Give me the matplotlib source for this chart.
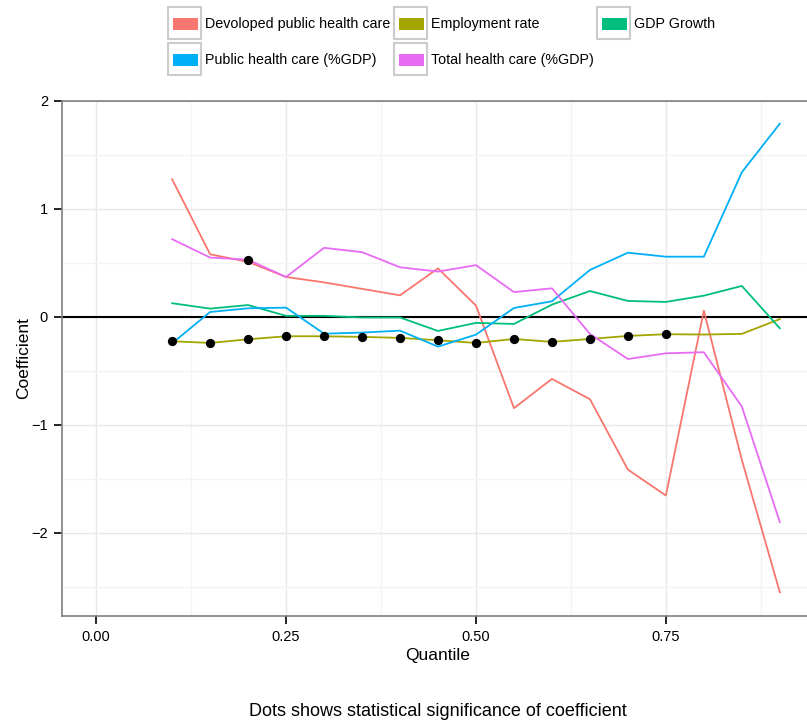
import matplotlib
matplotlib.use("Agg")
import matplotlib.pyplot as plt
from matplotlib.patches import Rectangle
import numpy as np

plt.rcParams['font.family'] = ['Liberation Sans', 'DejaVu Sans']

quantile = [0.10, 0.15, 0.20, 0.25, 0.30, 0.35, 0.40, 0.45, 0.50,
            0.55, 0.60, 0.65, 0.70, 0.75, 0.80, 0.85, 0.90]

devoloped = [1.275, 0.58, 0.51, 0.37, 0.32, 0.26, 0.20, 0.45, 0.105,
             -0.845, -0.574, -0.762, -1.414, -1.654, 0.058, -1.324, -2.55]
employment = [-0.225, -0.241, -0.207, -0.179, -0.179, -0.185, -0.194, -0.216, -0.241,
              -0.204, -0.231, -0.204, -0.176, -0.16, -0.163, -0.157, -0.02]
gdp_growth = [0.127, 0.077, 0.11, 0.01, 0.01, -0.005, -0.005, -0.13, -0.055,
              -0.065, 0.114, 0.24, 0.148, 0.139, 0.197, 0.287, -0.105]
public_hc = [-0.244, 0.046, 0.08, 0.086, -0.155, -0.145, -0.127, -0.275, -0.164,
             0.083, 0.145, 0.435, 0.595, 0.558, 0.558, 1.34, 1.79]
total_hc = [0.72, 0.55, 0.53, 0.37, 0.64, 0.60, 0.46, 0.42, 0.48,
            0.23, 0.265, -0.157, -0.39, -0.337, -0.327, -0.83, -1.90]

series_names = ["Devoloped public health care", "Employment rate", "GDP Growth",
                "Public health care (%GDP)", "Total health care (%GDP)"]
series_values = [devoloped, employment, gdp_growth, public_hc, total_hc]
colors = ["#F8766D", "#A3A500", "#00BF7D", "#00B0F6", "#E76BF3"]

# significant coefficients (dots)
sig_x = [0.10, 0.15, 0.20, 0.25, 0.30, 0.35, 0.40, 0.45, 0.50,
         0.55, 0.60, 0.65, 0.70, 0.75, 0.20]
sig_y = employment[:14] + [total_hc[2]]

W, H = 807, 722
fig = plt.figure(figsize=(W / 100, H / 100), dpi=100)
ax = fig.add_axes([62 / W, (H - 616) / H, (814 - 62) / W, (616 - 101) / H])

for name, vals, c in zip(series_names, series_values, colors):
    ax.plot(quantile, vals, color=c, lw=1.3, label=name, zorder=3)
ax.axhline(0, color='black', lw=1.5, zorder=2)
ax.scatter(sig_x, sig_y, s=32, color='black', zorder=5)

ax.set_xlim(-0.045, 0.945)
ax.set_ylim(-2.77, 2.0)
ax.set_xticks([0.0, 0.25, 0.5, 0.75])
ax.set_xticklabels(["0.00", "0.25", "0.50", "0.75"])
ax.set_yticks([-2, -1, 0, 1, 2])
ax.set_yticklabels(["\u22122", "\u22121", "0", "1", "2"])
ax.set_xticks([0.125, 0.375, 0.625, 0.875], minor=True)
ax.set_yticks([-2.5, -1.5, -0.5, 0.5, 1.5], minor=True)
ax.grid(which='major', color='#e8e8e8', lw=1.0, zorder=0)
ax.grid(which='minor', color='#f4f4f4', lw=1.0, zorder=0)
ax.set_axisbelow(True)
ax.tick_params(which='major', direction='out', length=6, width=1.2, color='black',
               labelsize=10.5, labelcolor='black', pad=4)
ax.tick_params(which='minor', length=0)
for s in ax.spines.values():
    s.set_color('#7f7f7f')
    s.set_linewidth(1.2)
ax.set_xlabel("Quantile", fontsize=12.5, labelpad=3)
ax.set_ylabel("Coefficient", fontsize=12.5, labelpad=0)

# legend drawn manually: 3 columns x 2 rows, keys with grey frames
key_cols = [168, 394, 597]
key_rows = [7, 43]
for i, (name, c) in enumerate(zip(series_names, colors)):
    r, col = divmod(i, 3)
    x0, y0 = key_cols[col], key_rows[r]
    fig.add_artist(Rectangle((x0 / W, 1 - (y0 + 32) / H), 33 / W, 32 / H,
                             transform=fig.transFigure, facecolor='white',
                             edgecolor='#cccccc', lw=1.5))
    fig.add_artist(Rectangle(((x0 + 4.5) / W, 1 - (y0 + 23) / H), 25 / W, 12 / H,
                             transform=fig.transFigure, facecolor=c,
                             edgecolor='none'))
    fig.text((x0 + 37) / W, 1 - (y0 + 17) / H, name, fontsize=10.3,
             va='center', ha='left')

fig.text(438 / W, 1 - 712 / H, "Dots shows statistical significance of coefficient",
         fontsize=13, ha='center', va='center')

fig.savefig("out.png", dpi=100)
